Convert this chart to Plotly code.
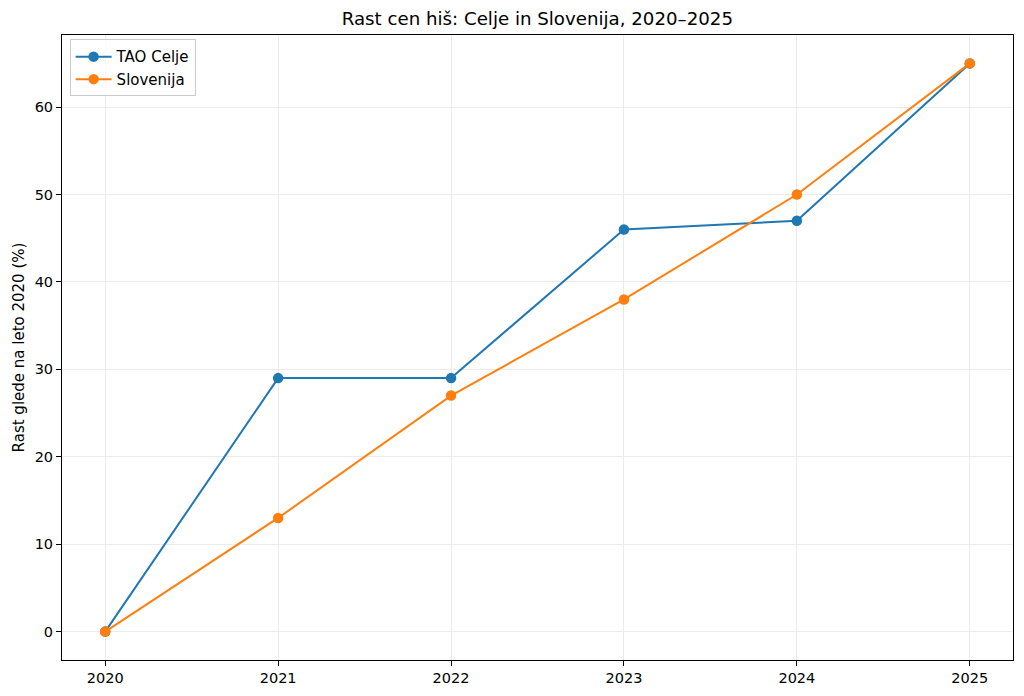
import plotly.graph_objects as go

years = [2020, 2021, 2022, 2023, 2024, 2025]
celje = [0, 29, 29, 46, 47, 65]
slovenija = [0, 13, 27, 38, 50, 65]
y_ticks = [0, 10, 20, 30, 40, 50, 60]

font = "DejaVu Sans"
fig = go.Figure()
fig.add_trace(go.Scatter(x=years, y=celje, mode="lines+markers", name="TAO Celje",
                         line=dict(color="#1f77b4", width=2), marker=dict(size=10.5, color="#1f77b4")))
fig.add_trace(go.Scatter(x=years, y=slovenija, mode="lines+markers", name="Slovenija",
                         line=dict(color="#ff7f0e", width=2), marker=dict(size=10.5, color="#ff7f0e")))

axis_common = dict(showline=True, linecolor="black", linewidth=1, mirror=True,
                   ticks="outside", ticklen=5, tickcolor="black", automargin=False,
                   showgrid=True, gridcolor="#ebebeb", gridwidth=1,
                   zeroline=False, tickfont=dict(family=font, size=14.5, color="black"))

# page body has an 8px margin, so the figure is sized to fit inside the window
fig.update_layout(
    width=1016, height=688,
    margin=dict(l=54, r=11, t=27, b=36),
    paper_bgcolor="white", plot_bgcolor="white",
    title=dict(text="Rast cen hiš: Celje in Slovenija, 2020–2025", x=0.521, xanchor="center",
               y=0.984, yanchor="middle", font=dict(family=font, size=18.2, color="black")),
    xaxis=dict(range=[2019.75, 2025.25], tickvals=years, ticktext=[str(y) for y in years], **axis_common),
    yaxis=dict(range=[-3.25, 68.25], tickvals=y_ticks,
               title=dict(text="Rast glede na leto 2020 (%)", font=dict(family=font, size=15, color="black"), standoff=6),
               **axis_common),
    legend=dict(x=0.008, y=0.993, xanchor="left", yanchor="top", bgcolor="rgba(255,255,255,0.8)",
                bordercolor="#cccccc", borderwidth=1, itemwidth=36,
                font=dict(family=font, size=15, color="black")),
    showlegend=True,
)
fig.write_html("out.html")
